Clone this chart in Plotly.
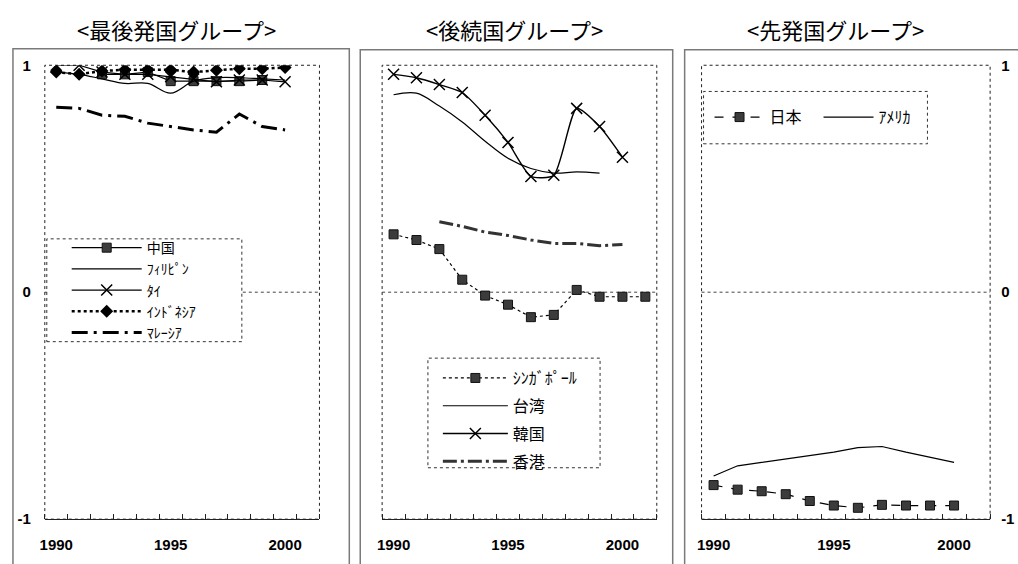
import plotly.graph_objects as go

years = list(range(1990, 2002))

# Panel 1: 最後発国グループ
china_years = [1992, 1993, 1994, 1995, 1996, 1997, 1998, 1999]
china = [0.96, 0.96, 0.97, 0.93, 0.93, 0.93, 0.93, 0.935]
phil_years = list(range(1990, 2001))
phil = [0.97, 0.96, 0.94, 0.92, 0.92, 0.877, 0.93, 0.945, 0.945, 0.94, 0.935]
thai_years = list(range(1990, 2001))
thai = [1.0, 1.0, 0.97, 0.96, 0.96, 0.95, 0.94, 0.927, 0.935, 0.935, 0.927]
indo_years = list(range(1990, 2001))
indo = [0.97, 0.96, 0.975, 0.98, 0.98, 0.98, 0.97, 0.978, 0.985, 0.985, 0.99]
malay_years = list(range(1990, 2001))
malay = [0.815, 0.81, 0.78, 0.775, 0.745, 0.73, 0.715, 0.705, 0.785, 0.73, 0.715]

# Panel 2: 後続国グループ
sing_years = list(range(1990, 2002))
sing = [0.255, 0.23, 0.19, 0.055, -0.015, -0.055, -0.11, -0.10, 0.01, -0.02, -0.02, -0.02]
taiwan_years = list(range(1990, 2000))
taiwan = [0.87, 0.877, 0.82, 0.75, 0.665, 0.59, 0.545, 0.525, 0.53, 0.525]
korea_years = list(range(1990, 2001))
korea = [0.96, 0.945, 0.915, 0.88, 0.78, 0.66, 0.51, 0.515, 0.81, 0.73, 0.595]
hk_years = list(range(1992, 2001))
hk = [0.31, 0.29, 0.265, 0.25, 0.23, 0.215, 0.215, 0.205, 0.21]

# Panel 3: 先発国グループ
japan_years = list(range(1990, 2001))
japan = [-0.85, -0.87, -0.877, -0.89, -0.92, -0.94, -0.95, -0.937, -0.94, -0.94, -0.94]
usa_years = list(range(1990, 2001))
usa = [-0.81, -0.765, -0.75, -0.735, -0.72, -0.705, -0.685, -0.68, -0.705, -0.727, -0.75]

titles = ["<最後発国グループ>", "<後続国グループ>", "<先発国グループ>"]
xtick_vals = [1990, 1995, 2000]
ytick_vals = [1, 0, -1]
ytick_text = ["1", "0", "-1"]

W, H = 1018, 564
CJK = "Noto Sans CJK JP"
NUM = "Liberation Sans"

def px(x):
    return x / W

def py(y):
    return 1 - y / H

fig = go.Figure()

sq = dict(symbol="square", size=9, color="#3c3c3c", line=dict(color="#111", width=1))
xm = dict(symbol="x-thin", size=11, color="black", line=dict(color="black", width=1.5))

# Panel 1 traces
fig.add_trace(go.Scatter(x=china_years, y=china, name="中国", mode="lines+markers",
                         line=dict(color="black", width=1.2), marker=sq,
                         xaxis="x", yaxis="y", legend="legend", legendgroup="a1"))
fig.add_trace(go.Scatter(x=phil_years, y=phil, name="ﾌｨﾘﾋﾟﾝ", mode="lines",
                         line=dict(color="black", width=1.2, shape="spline"),
                         xaxis="x", yaxis="y", legend="legend", legendgroup="a2"))
fig.add_trace(go.Scatter(x=thai_years, y=thai, name="ﾀｲ", mode="lines+markers",
                         line=dict(color="black", width=1.2), marker=xm,
                         xaxis="x", yaxis="y", legend="legend", legendgroup="a3"))
fig.add_trace(go.Scatter(x=indo_years, y=indo, name="ｲﾝﾄﾞﾈｼｱ", mode="lines+markers",
                         line=dict(color="black", width=2.5, dash="dot"),
                         marker=dict(symbol="diamond", size=10, color="black"),
                         xaxis="x", yaxis="y", legend="legend", legendgroup="a4"))
fig.add_trace(go.Scatter(x=malay_years, y=malay, name="ﾏﾚｰｼｱ", mode="lines",
                         line=dict(color="black", width=3, dash="16px,6px,3px,6px"),
                         xaxis="x", yaxis="y", legend="legend", legendgroup="a5"))

# Panel 2 traces
fig.add_trace(go.Scatter(x=sing_years, y=sing, name="ｼﾝｶﾞﾎﾟｰﾙ", mode="lines+markers",
                         line=dict(color="black", width=1.2, dash="dot"), marker=sq,
                         xaxis="x2", yaxis="y2", legend="legend2", legendgroup="b1"))
fig.add_trace(go.Scatter(x=taiwan_years, y=taiwan, name="台湾", mode="lines",
                         line=dict(color="black", width=1.2, shape="spline"),
                         xaxis="x2", yaxis="y2", legend="legend2", legendgroup="b2"))
fig.add_trace(go.Scatter(x=korea_years, y=korea, name="韓国", mode="lines+markers",
                         line=dict(color="black", width=1.4, shape="spline", smoothing=0.6),
                         marker=xm,
                         xaxis="x2", yaxis="y2", legend="legend2", legendgroup="b3"))
fig.add_trace(go.Scatter(x=hk_years, y=hk, name="香港", mode="lines",
                         line=dict(color="#333", width=3, dash="14px,4px,3px,4px"),
                         xaxis="x2", yaxis="y2", legend="legend2", legendgroup="b4"))

# Panel 3 traces
fig.add_trace(go.Scatter(x=japan_years, y=japan, name="日本", mode="lines+markers",
                         line=dict(color="black", width=1.2, dash="dash"), marker=sq,
                         xaxis="x3", yaxis="y3", legend="legend3"))
fig.add_trace(go.Scatter(x=usa_years, y=usa, name="ｱﾒﾘｶ", mode="lines",
                         line=dict(color="black", width=1.2),
                         xaxis="x3", yaxis="y3", legend="legend3"))

ydom = [py(526), py(58)]
xdoms = [[px(40), px(316)], [px(379), px(655)], [px(700), px(990)]]

def xaxis_cfg(dom, anchor):
    return dict(domain=dom, anchor=anchor, range=[1989.5, 2001.5], showgrid=False,
                zeroline=False, tickmode="array", tickvals=xtick_vals,
                ticktext=[str(v) for v in xtick_vals], ticks="", showline=True,
                linecolor="#222", linewidth=1, ticklabelstandoff=12,
                tickfont=dict(family=NUM, size=15, color="black", weight="bold"),
                minor=dict(tickmode="linear", tick0=1989.5, dtick=1, ticks="inside",
                           ticklen=5, tickcolor="#222", tickwidth=1, showgrid=False),
                fixedrange=True)

def yaxis_cfg(anchor, show, side="left"):
    return dict(domain=ydom, anchor=anchor, range=[-1, 1], showgrid=False, zeroline=False,
                tickmode="array", tickvals=ytick_vals, ticktext=ytick_text,
                showticklabels=show, ticks="", side=side, showline=False,
                ticklabelstandoff=13 if side == "left" else 10,
                tickfont=dict(family=NUM, size=15, color="black", weight="bold"),
                fixedrange=True)

shapes = []
# outer gray boxes
for x0, x1, y0 in [(8, 346, 41), (357, 671, 42), (683, 1030, 42)]:
    shapes.append(dict(type="rect", xref="paper", yref="paper", x0=px(x0), x1=px(x1),
                       y0=-0.1, y1=py(y0), line=dict(color="#7a7a7a", width=1.5),
                       layer="below"))
# dotted plot frames and zero lines
for i, ax in enumerate(["x", "x2", "x3"]):
    yax = ["y", "y2", "y3"][i]
    shapes.append(dict(type="rect", xref=f"{ax} domain", yref=f"{yax} domain",
                       x0=0, x1=1, y0=0, y1=1, line=dict(color="#222", width=1, dash="dot"),
                       layer="below"))
    shapes.append(dict(type="line", xref=f"{ax} domain", yref=yax, x0=0, x1=1, y0=0, y1=0,
                       line=dict(color="#444", width=1, dash="dot"), layer="below"))
# legend boxes
for x0, x1, y0, y1 in [(42, 238, 237, 343), (425, 598, 360, 473), (702, 927, 85, 139)]:
    shapes.append(dict(type="rect", xref="paper", yref="paper", x0=px(x0), x1=px(x1),
                       y0=py(y1), y1=py(y0), fillcolor="white",
                       line=dict(color="#333", width=1, dash="dot"), layer="above"))

annotations = []
for t, cx in zip(titles, [172, 512, 835]):
    annotations.append(dict(text=t, x=px(cx), y=py(21), xref="paper", yref="paper",
                            showarrow=False, xanchor="center", yanchor="middle",
                            font=dict(family=CJK, size=22, color="black")))

fig.update_layout(
    width=W, height=H, margin=dict(l=0, r=0, t=0, b=0),
    paper_bgcolor="white", plot_bgcolor="white",
    xaxis=xaxis_cfg(xdoms[0], "y"), yaxis=yaxis_cfg("x", True),
    xaxis2=xaxis_cfg(xdoms[1], "y2"), yaxis2=yaxis_cfg("x2", False),
    xaxis3=xaxis_cfg(xdoms[2], "y3"), yaxis3=yaxis_cfg("x3", True, side="right"),
    shapes=shapes, annotations=annotations,
    legend=dict(x=px(62), y=py(230), xanchor="left", yanchor="top",
                bgcolor="rgba(0,0,0,0)", borderwidth=0, itemwidth=70,
                traceorder="grouped", tracegroupgap=0,
                font=dict(family=CJK, size=14, color="black")),
    legend2=dict(x=px(435), y=py(363), xanchor="left", yanchor="top",
                 bgcolor="rgba(0,0,0,0)", borderwidth=0, itemwidth=65,
                 traceorder="grouped", tracegroupgap=4,
                 font=dict(family=CJK, size=16, color="black")),
    legend3=dict(x=px(708), y=py(94), xanchor="left", yanchor="top", orientation="h",
                 bgcolor="rgba(0,0,0,0)", borderwidth=0, itemwidth=50,
                 entrywidth=44, entrywidthmode="pixels",
                 font=dict(family=CJK, size=16, color="black")),
    showlegend=True,
)

fig.write_html("out.html", config={"displayModeBar": False},
               post_script="document.body.style.margin='0';document.body.style.overflow='hidden';")
